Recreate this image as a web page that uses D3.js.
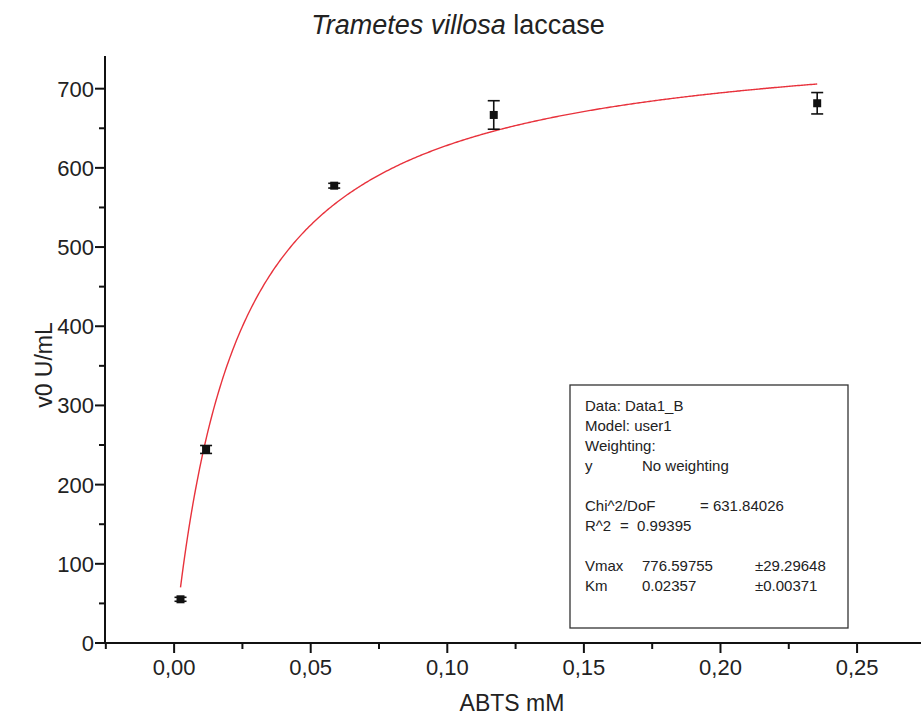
<!DOCTYPE html>
<html>
<head>
<meta charset="utf-8">
<script src="https://cdn.jsdelivr.net/npm/d3@7"></script>
<style>
  body { margin: 0; background: #fff; }
  svg { font-family: "Liberation Sans", Arial, sans-serif; }
  text { white-space: pre; }
</style>
</head>
<body>
<svg width="921" height="719"></svg>
<script>
// substrate (ABTS mM), rate and its error
var abts = [0.00234, 0.0117, 0.0586, 0.117, 0.2354];
var v0 = [55.2, 244.4, 577.5, 666.8, 681.6];
var v0Err = [2.5, 5, 3, 18, 13.5];

// fit result (Michaelis-Menten, model user1)
var vmax = 776.59755;
var km = 0.02357;

var xTicks = [0, 0.05, 0.10, 0.15, 0.20, 0.25];
var yTicks = [0, 100, 200, 300, 400, 500, 600, 700];

var fitLines = [
    ["Data: Data1_B"],
    ["Model: user1"],
    ["Weighting:"],
    ["y", "No weighting"],
    [],
    ["Chi^2/DoF", "", "= 631.84026"],
    ["R^2", "=  0.99395"],
    [],
    ["Vmax", "776.59755", "±29.29648"],
    ["Km", "0.02357", "±0.00371"]
];

var svg = d3.select("svg");

var x = d3.scaleLinear().domain([-0.0253, 0.2734]).range([105, 921]);
var y = d3.scaleLinear().domain([0, 740]).range([643, 57]);

var comma = v => d3.format(".2f")(v).replace(".", ",");

// x axis
var xAxis = svg.append("g").attr("transform", "translate(0,643)");
xAxis.append("line")
    .attr("x1", 105).attr("x2", 921)
    .attr("stroke", "#111").attr("stroke-width", 2);
var xMinor = d3.range(-0.025, 0.28, 0.025);
xAxis.selectAll(".xt")
    .data(xMinor)
    .enter().append("line")
    .attr("x1", d => x(d)).attr("x2", d => x(d))
    .attr("y1", 0)
    .attr("y2", (d, i) => i % 2 == 1 ? 10 : 6)
    .attr("stroke", "#111").attr("stroke-width", 2);
xAxis.selectAll(".xl")
    .data(xTicks)
    .enter().append("text")
    .attr("x", d => x(d))
    .attr("y", 32)
    .attr("text-anchor", "middle")
    .attr("font-size", 22)
    .attr("fill", "#222")
    .text(comma);

// y axis
var yAxis = svg.append("g").attr("transform", "translate(105,0)");
yAxis.append("line")
    .attr("y1", 56).attr("y2", 644)
    .attr("stroke", "#111").attr("stroke-width", 2);
yAxis.selectAll(".yt")
    .data(d3.range(0, 741, 50))
    .enter().append("line")
    .attr("y1", d => y(d)).attr("y2", d => y(d))
    .attr("x1", 0)
    .attr("x2", d => d % 100 == 0 ? -10 : -6)
    .attr("stroke", "#111").attr("stroke-width", 2);
yAxis.selectAll(".yl")
    .data(yTicks)
    .enter().append("text")
    .attr("x", -11)
    .attr("y", d => y(d) + 8)
    .attr("text-anchor", "end")
    .attr("font-size", 22)
    .attr("fill", "#222")
    .text(d => d);

// titles
var title = svg.append("text")
    .attr("x", 458).attr("y", 34)
    .attr("text-anchor", "middle")
    .attr("font-size", 27)
    .attr("fill", "#222");
title.append("tspan").attr("font-style", "italic").text("Trametes villosa");
title.append("tspan").text(" laccase");

svg.append("text")
    .attr("transform", "translate(52,365) rotate(-90)")
    .attr("text-anchor", "middle")
    .attr("font-size", 23)
    .attr("fill", "#222")
    .text("v0 U/mL");

svg.append("text")
    .attr("x", 512).attr("y", 711)
    .attr("text-anchor", "middle")
    .attr("font-size", 23)
    .attr("fill", "#222")
    .text("ABTS mM");

// fitted curve
var sFit = d3.range(abts[0], abts[abts.length - 1], 0.0005).concat([abts[abts.length - 1]]);
var line = d3.line()
    .x(s => x(s))
    .y(s => y(vmax * s / (km + s)));
svg.append("path")
    .datum(sFit)
    .attr("d", line)
    .attr("fill", "none")
    .attr("stroke", "#e8323c")
    .attr("stroke-width", 1.4);

// error bars + markers
var pts = abts.map((s, i) => ({ s: s, v: v0[i], e: v0Err[i] }));
var g = svg.selectAll(".pt").data(pts).enter().append("g");
g.append("line")
    .attr("x1", d => x(d.s)).attr("x2", d => x(d.s))
    .attr("y1", d => y(d.v - d.e)).attr("y2", d => y(d.v + d.e))
    .attr("stroke", "#111").attr("stroke-width", 1.6);
g.append("line")
    .attr("x1", d => x(d.s) - 6).attr("x2", d => x(d.s) + 6)
    .attr("y1", d => y(d.v + d.e)).attr("y2", d => y(d.v + d.e))
    .attr("stroke", "#111").attr("stroke-width", 1.6);
g.append("line")
    .attr("x1", d => x(d.s) - 6).attr("x2", d => x(d.s) + 6)
    .attr("y1", d => y(d.v - d.e)).attr("y2", d => y(d.v - d.e))
    .attr("stroke", "#111").attr("stroke-width", 1.6);
g.append("rect")
    .attr("x", d => x(d.s) - 4).attr("y", d => y(d.v) - 4)
    .attr("width", 8).attr("height", 8)
    .attr("fill", "#111");

// fit report box
var box = svg.append("g");
box.append("rect")
    .attr("x", 570).attr("y", 385)
    .attr("width", 278).attr("height", 243)
    .attr("fill", "#fff")
    .attr("stroke", "#333").attr("stroke-width", 1.3);

var colX = {
    "Chi^2/DoF": [585, 0, 700],
    "R^2": [585, 620],
    "y": [585, 642],
    "Vmax": [585, 642, 755],
    "Km": [585, 642, 755]
};
fitLines.forEach(function(row, i) {
    var cols = colX[row[0]] || [585];
    row.forEach(function(t, j) {
        if (!t) return;
        box.append("text")
            .attr("x", cols[j])
            .attr("y", 411 + i * 20)
            .attr("font-size", 15)
            .attr("fill", "#222")
            .text(t);
    });
});
</script>
</body>
</html>
